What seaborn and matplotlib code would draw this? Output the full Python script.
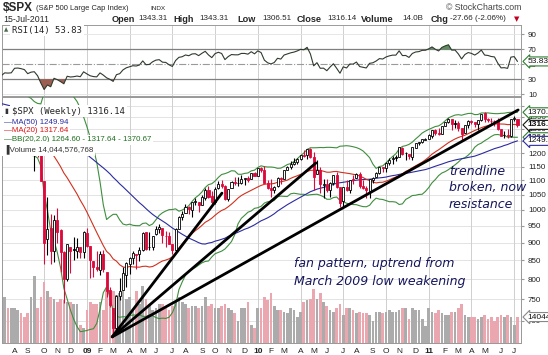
import numpy as np
import pandas as pd
import matplotlib
matplotlib.use("Agg")
import matplotlib.pyplot as plt
import matplotlib.transforms as mtransforms
from matplotlib.ticker import NullLocator, NullFormatter
import seaborn as sns

sns.set_style("white")
plt.rcParams['font.family'] = ['DejaVu Sans']

## weekly closes before the visible window (warm-up for MA50 / RSI)
hist_close = [1530, 1552, 1534, 1459, 1433, 1454, 1446, 1479, 1474, 1454, 1484, 1526, 1527,
              1558, 1562, 1501, 1535, 1510, 1454, 1459, 1441, 1481, 1505, 1468, 1484, 1478,
              1412, 1401, 1325, 1331, 1395, 1331, 1350, 1353, 1331, 1293, 1288, 1330, 1315,
              1370, 1333, 1390, 1398, 1414, 1388, 1425, 1376, 1400, 1361, 1360, 1318, 1278]

## visible weeks: $SPX weekly OHLC, volume in billions
week_start = "2008-06-30"
holiday_mondays = ["2008-09-01", "2009-01-19", "2009-02-16", "2009-05-25", "2009-09-07",
                   "2010-01-18", "2010-02-15", "2010-05-31", "2010-07-05", "2010-09-06",
                   "2011-01-17", "2011-02-21", "2011-05-30", "2011-07-04"]

opens = [1278, 1263, 1240, 1261, 1258, 1260, 1296, 1298, 1292, 1283, 1242, 1250, 1255, 1209, 1097,
         912, 943, 875, 968, 936, 874, 801, 888, 882, 877, 887, 872, 929, 890, 849,
         833, 823, 869, 819, 773, 730, 684, 758, 772, 810, 839, 857, 868, 867, 880,
         930, 887, 887, 924, 941, 944, 919, 919, 895, 880, 940, 978, 990, 1009, 999,
         1027, 1026, 1017, 1040, 1067, 1045, 1026, 1072, 1088, 1081, 1036, 1072, 1094, 1092, 1092,
         1106, 1108, 1105, 1128, 1117, 1145, 1136, 1092, 1074, 1066, 1079, 1110, 1105, 1139, 1148,
         1160, 1167, 1178, 1194, 1193, 1217, 1188, 1122, 1137, 1085, 1088, 1065, 1092, 1121, 1077,
         1028, 1078, 1065, 1103, 1107, 1122, 1079, 1073, 1063, 1103, 1113, 1126, 1148, 1144, 1165,
         1180, 1185, 1185, 1223, 1200, 1198, 1187, 1223, 1241, 1246, 1255, 1258, 1271, 1293, 1283,
         1276, 1311, 1328, 1340, 1322, 1322, 1301, 1281, 1315, 1333, 1329, 1319, 1338, 1366, 1340,
         1334, 1333, 1332, 1300, 1272, 1272, 1269, 1340, 1343]
highs = [1292, 1278, 1262, 1291, 1284, 1297, 1313, 1300, 1300, 1304, 1274, 1265, 1255, 1215, 1097,
         1044, 986, 985, 1007, 939, 875, 897, 888, 918, 914, 887, 934, 943, 890, 849,
         877, 875, 878, 819, 780, 730, 759, 804, 832, 845, 858, 876, 868, 887, 930,
         930, 930, 920, 951, 956, 945, 935, 932, 897, 943, 980, 996, 1019, 1014, 1027,
         1039, 1026, 1049, 1074, 1080, 1062, 1076, 1097, 1101, 1085, 1071, 1097, 1113, 1112, 1119,
         1107, 1117, 1128, 1130, 1146, 1150, 1151, 1103, 1105, 1081, 1112, 1112, 1139, 1151, 1170,
         1181, 1182, 1194, 1214, 1219, 1220, 1206, 1174, 1148, 1104, 1105, 1093, 1121, 1131, 1077,
         1078, 1100, 1103, 1120, 1128, 1130, 1100, 1081, 1105, 1111, 1131, 1149, 1149, 1167, 1184,
         1189, 1196, 1227, 1226, 1207, 1199, 1225, 1241, 1247, 1259, 1263, 1277, 1296, 1297, 1302,
         1311, 1330, 1344, 1340, 1335, 1331, 1301, 1316, 1338, 1339, 1329, 1339, 1365, 1371, 1346,
         1346, 1336, 1346, 1300, 1292, 1298, 1342, 1356, 1343]
lows = [1253, 1225, 1200, 1248, 1234, 1247, 1275, 1261, 1263, 1236, 1217, 1133, 1186, 1097, 839,
        866, 840, 845, 900, 818, 741, 795, 815, 851, 857, 857, 857, 888, 804, 805,
        821, 812, 818, 754, 731, 667, 672, 747, 772, 779, 814, 839, 826, 847, 875,
        878, 879, 880, 923, 928, 899, 888, 896, 869, 875, 940, 969, 990, 986, 979,
        1017, 992, 1017, 1034, 1041, 1020, 1018, 1071, 1074, 1033, 1029, 1072, 1085, 1079, 1086,
        1085, 1093, 1105, 1115, 1116, 1131, 1090, 1071, 1044, 1056, 1076, 1086, 1105, 1136, 1141,
        1156, 1160, 1175, 1186, 1180, 1182, 1066, 1122, 1056, 1040, 1060, 1042, 1084, 1073, 1011,
        1010, 1063, 1056, 1089, 1107, 1074, 1069, 1040, 1039, 1091, 1113, 1122, 1131, 1132, 1155,
        1159, 1171, 1185, 1194, 1174, 1177, 1174, 1222, 1233, 1243, 1252, 1258, 1263, 1272, 1275,
        1276, 1311, 1324, 1294, 1302, 1291, 1249, 1281, 1302, 1321, 1306, 1294, 1332, 1330, 1329,
        1318, 1311, 1296, 1268, 1262, 1262, 1266, 1333, 1307]
closes = [1263, 1239, 1261, 1258, 1260, 1296, 1298, 1292, 1283, 1242, 1252, 1255, 1213, 1099, 899,
          941, 877, 969, 931, 873, 800, 896, 876, 880, 888, 873, 932, 890, 850, 832,
          826, 869, 827, 770, 735, 683, 757, 769, 816, 843, 857, 870, 866, 878, 929,
          883, 887, 919, 940, 946, 921, 919, 896, 879, 940, 979, 987, 1010, 1004, 1026,
          1029, 1016, 1043, 1068, 1044, 1025, 1071, 1088, 1080, 1036, 1069, 1093, 1091, 1091, 1106,
          1106, 1102, 1126, 1115, 1145, 1136, 1092, 1074, 1066, 1076, 1109, 1104, 1139, 1150, 1160,
          1167, 1178, 1194, 1192, 1217, 1187, 1111, 1136, 1088, 1089, 1065, 1092, 1118, 1077, 1023,
          1078, 1065, 1103, 1102, 1122, 1079, 1072, 1065, 1105, 1110, 1126, 1149, 1146, 1165, 1176,
          1183, 1183, 1226, 1199, 1200, 1189, 1225, 1240, 1244, 1257, 1258, 1272, 1293, 1283, 1276,
          1311, 1329, 1343, 1320, 1321, 1304, 1279, 1314, 1332, 1328, 1320, 1337, 1364, 1340, 1338,
          1333, 1331, 1300, 1271, 1272, 1268, 1340, 1344, 1316.14]
volumes = [20, 20, 25, 19, 19, 19, 18, 16, 14, 16, 25, 36, 19, 25, 33,
           28, 25, 24, 22, 24, 23, 22, 22, 21, 21, 10, 8, 18, 22, 21,
           21, 22, 18, 29, 21, 28, 26, 27, 29, 24, 25, 18, 28, 21, 31,
           24, 21, 18, 19, 21, 21, 19, 18, 20, 22, 25, 22, 21, 19, 20,
           20, 19, 20, 25, 20, 21, 19, 19, 20, 21, 19, 18, 16, 12, 19,
           19, 22, 10, 8, 19, 19, 25, 23, 27, 20, 18, 18, 17, 16, 19,
           18, 14, 17, 22, 23, 24, 29, 24, 27, 22, 20, 18, 17, 19, 21,
           15, 19, 19, 18, 16, 17, 16, 16, 15, 12, 17, 17, 16, 17, 18,
           17, 17, 18, 19, 19, 13, 19, 18, 18, 13, 9, 19, 17, 16, 18,
           16, 15, 15, 17, 17, 19, 21, 15, 14, 14, 14, 13, 14, 15, 13,
           14, 12, 14, 15, 14, 15, 14, 10, 14.04]

## hand-drawn fan lines from the March 2009 low
fan_origin_idx = 34.7
fan_origin_price = 664
fan_end_idx = [68.1, 96.7, 158.2]
fan_end_price = [1056, 1164, 1381]

price_ticks = list(range(700, 1401, 50))
price_labels = [str(p) for p in price_ticks[:-1]] + [""]
rsi_ticks = [10, 30, 50, 70, 90]

# %%
## indicadores

n = len(closes)
dates = pd.date_range(week_start, periods=n, freq="W-MON")
hol = set(pd.to_datetime(holiday_mondays))
dates = pd.DatetimeIndex([d + pd.Timedelta(days=1) if d in hol else d for d in dates])

all_close = pd.Series(hist_close + closes, dtype=float)
ma20 = all_close.rolling(20).mean()
ma50 = all_close.rolling(50).mean()
sd20 = all_close.rolling(20).std(ddof=0)
bb_up = ma20 + 2 * sd20
bb_dn = ma20 - 2 * sd20
delta = all_close.diff()
gain = delta.clip(lower=0).ewm(alpha=1 / 14, adjust=False).mean()
loss = (-delta.clip(upper=0)).ewm(alpha=1 / 14, adjust=False).mean()
rsi = 100 - 100 / (1 + gain / loss)

k = len(hist_close)
sl = slice(k, k + n)
x = np.arange(n)
rsi_v = rsi[sl].values

o = np.array(opens, float)
c = np.array(closes, float)
prev = np.array([hist_close[-1]] + closes[:-1], float)
up = c >= prev
RED = "#DC0A3C"
col = np.where(up, "black", RED)
face = np.where(c < o, col, "white")
vol_col = np.where(up, "#ABABAB", "#EBA7B0")

xlim = (1.18, 159.07)
month_idx = [i for i in range(1, n) if dates[i].month != dates[i - 1].month and i > xlim[0]]
month_lab = [dates[i].strftime("%y") if dates[i].month == 1 else dates[i].strftime("%b")[0]
             for i in month_idx]
quarter_idx = [i for i in month_idx if dates[i].month in (1, 4, 7, 10)]

# %%
## figura

W, H = 548, 355
fig = plt.figure(figsize=(W / 100, H / 100), dpi=100)
L, R = 2, 521

ax_rsi = fig.add_axes([L / W, 1 - 96 / H, (R - L) / W, 71 / H])
ax_v = fig.add_axes([L / W, 1 - 343 / H, (R - L) / W, 246 / H])
ax = fig.add_axes([L / W, 1 - 343 / H, (R - L) / W, 246 / H])
ax.patch.set_visible(False)

for a in (ax_rsi, ax_v, ax):
    a.set_xlim(*xlim)
    for s in a.spines.values():
        s.set_color("#9A9A9A")
        s.set_linewidth(0.7)

ax.set_yscale("log")
ax.set_ylim(651, 1440)

# grid (drawn under the volume bars)
for p in price_ticks:
    ax_v.plot([0, 1], [p, p], transform=ax.get_yaxis_transform(), color="#DEDEDE", lw=0.6, zorder=0)
for i in quarter_idx:
    ax_v.axvline(i, color="#CFCFCF", lw=0.7, zorder=0)
    ax_rsi.axvline(i, color="#CFCFCF", lw=0.7, zorder=0)

# volume
ax_v.bar(x, volumes, width=0.82, color=vol_col, lw=0, zorder=1)
ax_v.set_ylim(0, 133)
ax_v.set_yticks([])
ax_v.set_xticks([])

# bandas e médias
sns.lineplot(x=x, y=bb_up[sl].values, ax=ax, color="#3E8E3E", lw=0.8, zorder=3)
sns.lineplot(x=x, y=bb_dn[sl].values, ax=ax, color="#3E8E3E", lw=0.8, zorder=3)
sns.lineplot(x=x, y=ma50[sl].values, ax=ax, color="#2B2BA0", lw=0.8, zorder=3)
sns.lineplot(x=x, y=ma20[sl].values, ax=ax, color="#D2301E", lw=0.8, zorder=3)

# candles
ax.vlines(x, lows, highs, colors=col, lw=0.8, zorder=4)
body_lo = np.minimum(o, c)
body_h = np.maximum(np.abs(c - o), 1.5)
ax.bar(x, body_h, bottom=body_lo, width=0.62, color=face, edgecolor=col, lw=0.6, zorder=5)

# fan lines
for xe, pe in zip(fan_end_idx, fan_end_price):
    ax.plot([fan_origin_idx, xe], [fan_origin_price, pe], color="black", lw=2.0,
            solid_capstyle="round", zorder=6)

ax.set_xlim(*xlim)
ax.set_ylim(651, 1440)
ax.yaxis.tick_right()
ax.set_yticks(price_ticks)
ax.set_yticklabels(price_labels)
ax.yaxis.set_minor_locator(NullLocator())
ax.yaxis.set_minor_formatter(NullFormatter())
ax.tick_params(axis="y", which="major", length=2, pad=3, labelsize=5.8, colors="#9A9A9A",
               labelcolor="#222222")
for t in ax.get_yticklabels():
    t.set_family("Liberation Sans")

ax.set_xticks(month_idx)
ax.set_xticklabels(month_lab)
ax.tick_params(axis="x", length=2, pad=1.5, labelsize=6, colors="#9A9A9A", labelcolor="#222222")
for t, lab in zip(ax.get_xticklabels(), month_lab):
    t.set_family("Liberation Sans")
    if lab.isdigit():
        t.set_fontweight("bold")
ax.set_xlabel("")
ax.set_ylabel("")

# RSI
ax_rsi.axhline(70, color="#7F7F7F", lw=0.9, zorder=1)
ax_rsi.axhline(30, color="#7F7F7F", lw=0.9, zorder=1)
ax_rsi.axhline(50, color="#9A9A9A", lw=0.8, ls="-.", zorder=1)
ax_rsi.axhline(10, color="#E3E3E3", lw=0.6, zorder=0)
ax_rsi.axhline(90, color="#E3E3E3", lw=0.6, zorder=0)
ax_rsi.fill_between(x, rsi_v, 30, where=rsi_v < 30, interpolate=True, color="#9C5E50", lw=0, zorder=2)
ax_rsi.fill_between(x, rsi_v, 70, where=rsi_v > 70, interpolate=True, color="#5F8F5F", lw=0, zorder=2)
sns.lineplot(x=x, y=rsi_v, ax=ax_rsi, color="#2E3A2E", lw=0.8, zorder=3)
ax_rsi.set_xlim(*xlim)
ax_rsi.set_ylim(7.7, 102.4)
ax_rsi.yaxis.tick_right()
ax_rsi.set_yticks(rsi_ticks)
ax_rsi.set_yticklabels([str(v) for v in rsi_ticks])
ax_rsi.tick_params(axis="y", length=2, pad=3, labelsize=5.8, colors="#9A9A9A", labelcolor="#222222")
for t in ax_rsi.get_yticklabels():
    t.set_family("Liberation Sans")
ax_rsi.set_xticks([])
ax_rsi.set_xlabel("")
ax_rsi.set_ylabel("")

# etiquetas à direita
def tag(axis, yval, s, ec, fw="normal", trans=None):
    axis.text(1.013, yval, s, transform=trans or axis.get_yaxis_transform(), va="center",
              ha="left", fontsize=6, fontweight=fw, family="Liberation Sans", color="#111111",
              bbox=dict(boxstyle="larrow,pad=0.12", fc="white", ec=ec, lw=0.8),
              clip_on=False, zorder=20)

tag(ax_rsi, rsi_v[-1], "53.83", "#2E7D2E")
tag(ax, 1264.60, "1264.60", "#2E7D2E")
tag(ax, 1249.94, "1249.94", "#2B2BA0")
tag(ax, 1316.14, "1316.14", "#111111", fw="bold")
tag(ax, 1370.67, "1370.67", "#2E7D2E")
tag(ax, volumes[-1], "14044", "#888888",
    trans=mtransforms.blended_transform_factory(ax.transAxes, ax_v.transData))

# %%
## textos

def ftext(px, py, s, **kw):
    kw.setdefault("va", "center")
    fig.text(px / W, 1 - py / H, s, **kw)

ftext(3, 8, "$SPX", fontsize=8.5, fontweight="bold", family="Liberation Sans")
ftext(36, 8, "(S&P 500 Large Cap Index)", fontsize=5.4, family="Liberation Sans")
ftext(150, 8.5, "INDX", fontsize=4.6, family="Liberation Sans")
ftext(521, 7, "\u00a9 StockCharts.com", fontsize=6.3, family="Liberation Sans", color="#444444",
      ha="right")
ftext(3, 19, "15-Jul-2011", fontsize=6.3, family="Liberation Sans")

hdr = [(112, "Open", True), (138, "1343.31", False), (173, "High", True), (199, "1343.31", False),
       (237, "Low", True), (262, "1306.51", False), (297, "Close", True), (327, "1316.14", False),
       (361, "Volume", True), (402, "14.0B", False), (431, "Chg", True),
       (450, "-27.66 (-2.06%)", False)]
for px, s, b in hdr:
    ftext(px, 19, s, fontsize=6.6 if b else 5.8, fontweight="bold" if b else "normal",
          family="Liberation Sans")
ftext(514, 19.5, "\u25BC", fontsize=5, color="#C00020")

box = dict(fc="white", ec="none", pad=1.2)
ftext(4, 30, "\u25B2", fontsize=4, color="#4D6B4D")
ftext(12, 30, "RSI(14) 53.83", fontsize=6.5, family="DejaVu Sans Mono", bbox=box)
ftext(4, 111, "\u25AE", fontsize=5, color="#333333", bbox=box)
ftext(12, 111, "$SPX (Weekly) 1316.14", fontsize=6.5, family="DejaVu Sans Mono", bbox=box)
ftext(4, 122, "\u2014MA(50) 1249.94", fontsize=5.7, family="Liberation Sans", color="#2B2BA0", bbox=box)
ftext(4, 131, "\u2014MA(20) 1317.64", fontsize=5.7, family="Liberation Sans", color="#E01010", bbox=box)
ftext(4, 140, "\u2014BB(20,2.0) 1264.60 - 1317.64 - 1370.67", fontsize=5.7, family="Liberation Sans",
      color="#1E6E1E", bbox=box)
ftext(4, 149, "\u2590Volume 14,044,576,768", fontsize=5.7, family="Liberation Sans",
      color="#333333", bbox=box)

ftext(449, 188, "trendline\nbroken, now\nresistance", fontsize=9, style="italic",
      color="#15155C", linespacing=1.35)
ftext(294, 272.5, "fan pattern, uptrend from\nMarch 2009 low weakening", fontsize=9,
      style="italic", color="#15155C", linespacing=1.45)

plt.savefig("out.png", dpi=100)
